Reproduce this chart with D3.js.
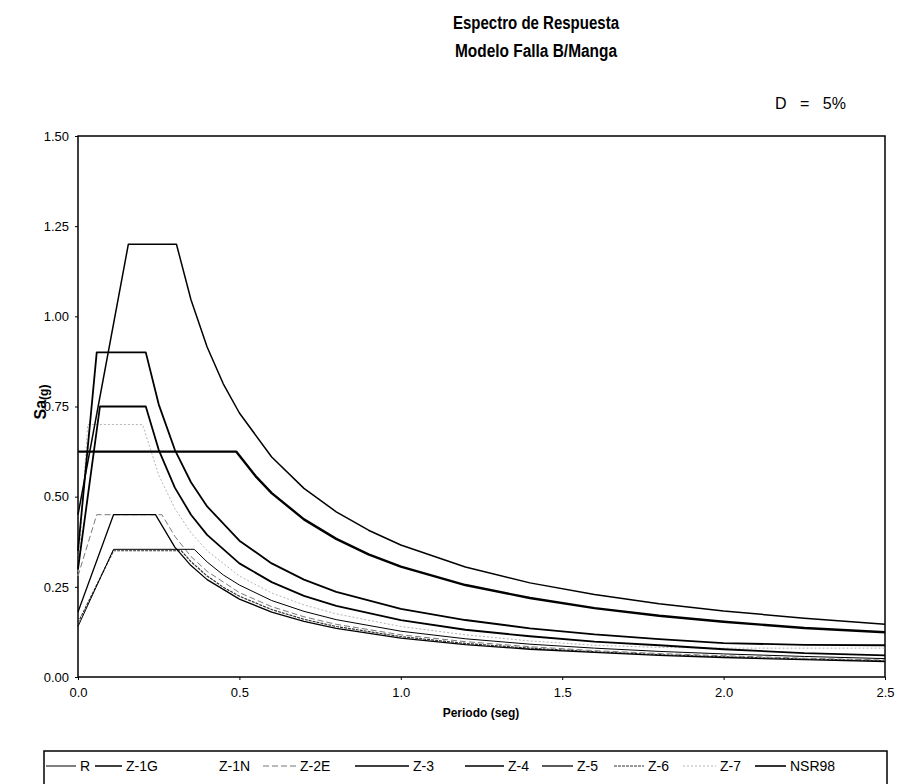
<!DOCTYPE html>
<html><head><meta charset="utf-8">
<script src="https://cdn.jsdelivr.net/npm/d3@7"></script>
<style>
html,body{margin:0;padding:0;background:#fff;}
svg{display:block;font-family:"Liberation Sans",Arial,sans-serif;}
</style></head>
<body>
<svg id="c" width="898" height="784"></svg>
<script>
// ---------- data ----------
const xTicks = [0, 0.5, 1.0, 1.5, 2.0, 2.5];
const xTickLabels = ["0.0", "0.5", "1.0", "1.5", "2.0", "2.5"];
const yTicks = [0, 0.25, 0.5, 0.75, 1.0, 1.25, 1.5];
const yTickLabels = ["0.00", "0.25", "0.50", "0.75", "1.00", "1.25", "1.50"];

const seriesNames = ["R", "Z-1G", "Z-1N", "Z-2E", "Z-3", "Z-4", "Z-5", "Z-6", "Z-7", "NSR98"];

const T_R   = [0, 0.11, 0.36, 0.4, 0.45, 0.5, 0.6, 0.7, 0.8, 1.0, 1.2, 1.4, 1.6, 1.8, 2.0, 2.25, 2.5];
const Sa_R  = [0.14, 0.354, 0.354, 0.319, 0.283, 0.255, 0.212, 0.182, 0.159, 0.127, 0.106, 0.091, 0.080, 0.071, 0.064, 0.057, 0.051];

const T_Z1G  = [0, 0.156, 0.305, 0.35, 0.4, 0.45, 0.5, 0.6, 0.7, 0.8, 0.9, 1.0, 1.2, 1.4, 1.6, 1.8, 2.0, 2.25, 2.5];
const Sa_Z1G = [0.45, 1.20, 1.20, 1.046, 0.915, 0.813, 0.732, 0.61, 0.523, 0.458, 0.407, 0.366, 0.305, 0.261, 0.229, 0.203, 0.183, 0.163, 0.146];

const T_Z1N  = [];
const Sa_Z1N = [];

const T_Z2E  = [0, 0.058, 0.26, 0.3, 0.35, 0.4, 0.5, 0.6, 0.7, 0.8, 1.0, 1.2, 1.4, 1.6, 1.8, 2.0, 2.25, 2.5];
const Sa_Z2E = [0.28, 0.45, 0.45, 0.39, 0.334, 0.293, 0.234, 0.195, 0.167, 0.146, 0.117, 0.098, 0.084, 0.073, 0.065, 0.059, 0.052, 0.047];

const T_Z3  = [0, 0.058, 0.21, 0.25, 0.3, 0.35, 0.4, 0.5, 0.6, 0.7, 0.8, 1.0, 1.2, 1.4, 1.6, 1.8, 2.0, 2.25, 2.5];
const Sa_Z3 = [0.35, 0.90, 0.90, 0.756, 0.63, 0.54, 0.473, 0.378, 0.315, 0.27, 0.236, 0.189, 0.158, 0.135, 0.118, 0.105, 0.094, 0.089, 0.088];

const T_Z4  = [0, 0.068, 0.21, 0.25, 0.3, 0.35, 0.4, 0.5, 0.6, 0.7, 0.8, 1.0, 1.2, 1.4, 1.6, 1.8, 2.0, 2.25, 2.5];
const Sa_Z4 = [0.30, 0.75, 0.75, 0.63, 0.525, 0.45, 0.394, 0.315, 0.263, 0.225, 0.197, 0.158, 0.131, 0.113, 0.098, 0.088, 0.077, 0.066, 0.060];

const T_Z5  = [0, 0.11, 0.24, 0.3, 0.35, 0.4, 0.5, 0.6, 0.7, 0.8, 1.0, 1.2, 1.4, 1.6, 1.8, 2.0, 2.25, 2.5];
const Sa_Z5 = [0.18, 0.45, 0.45, 0.36, 0.309, 0.27, 0.216, 0.18, 0.154, 0.135, 0.108, 0.09, 0.077, 0.068, 0.06, 0.054, 0.048, 0.043];

const T_Z6  = [0, 0.11, 0.32, 0.35, 0.4, 0.45, 0.5, 0.6, 0.7, 0.8, 1.0, 1.2, 1.4, 1.6, 1.8, 2.0, 2.25, 2.5];
const Sa_Z6 = [0.15, 0.35, 0.35, 0.32, 0.28, 0.249, 0.224, 0.187, 0.16, 0.14, 0.112, 0.093, 0.08, 0.07, 0.062, 0.056, 0.05, 0.045];

const T_Z7  = [0, 0.03, 0.2, 0.25, 0.3, 0.35, 0.4, 0.5, 0.6, 0.7, 0.8, 1.0, 1.2, 1.4, 1.6, 1.8, 2.0, 2.25, 2.5];
const Sa_Z7 = [0.28, 0.70, 0.70, 0.56, 0.467, 0.40, 0.35, 0.28, 0.233, 0.20, 0.175, 0.14, 0.117, 0.10, 0.088, 0.082, 0.08, 0.08, 0.08];

const T_NSR  = [0, 0.49, 0.55, 0.6, 0.7, 0.8, 0.9, 1.0, 1.2, 1.4, 1.6, 1.8, 2.0, 2.25, 2.5];
const Sa_NSR = [0.625, 0.625, 0.557, 0.51, 0.437, 0.383, 0.340, 0.306, 0.255, 0.219, 0.191, 0.170, 0.153, 0.136, 0.124];

// ---------- styling ----------
const styles = {
  "R":     {stroke: "#000", width: 1.0, dash: null},
  "Z-1G":  {stroke: "#000", width: 1.5, dash: null},
  "Z-1N":  {stroke: "#fff", width: 1.0, dash: null},
  "Z-2E":  {stroke: "#777", width: 1.0, dash: "6,3"},
  "Z-3":   {stroke: "#000", width: 1.8, dash: null},
  "Z-4":   {stroke: "#000", width: 1.8, dash: null},
  "Z-5":   {stroke: "#000", width: 1.3, dash: null},
  "Z-6":   {stroke: "#333", width: 1.2, dash: "3,1"},
  "Z-7":   {stroke: "#b5b5b5", width: 1.0, dash: "2,2"},
  "NSR98": {stroke: "#000", width: 2.4, dash: null}
};

const seriesData = {
  "R": [T_R, Sa_R], "Z-1G": [T_Z1G, Sa_Z1G], "Z-1N": [T_Z1N, Sa_Z1N],
  "Z-2E": [T_Z2E, Sa_Z2E], "Z-3": [T_Z3, Sa_Z3], "Z-4": [T_Z4, Sa_Z4],
  "Z-5": [T_Z5, Sa_Z5], "Z-6": [T_Z6, Sa_Z6], "Z-7": [T_Z7, Sa_Z7],
  "NSR98": [T_NSR, Sa_NSR]
};

const svg = d3.select("#c");
const m = {left: 78, right: 885, top: 136, bottom: 677};
const x = d3.scaleLinear().domain([0, 2.5]).range([m.left, m.right]);
const y = d3.scaleLinear().domain([0, 1.5]).range([m.bottom, m.top]);

// Title
svg.append("text").attr("x", 536).attr("y", 29).attr("text-anchor", "middle")
  .attr("font-weight", "bold").attr("font-size", 18)
  .attr("textLength", 166).attr("lengthAdjust", "spacingAndGlyphs")
  .text("Espectro de Respuesta");
svg.append("text").attr("x", 536).attr("y", 57).attr("text-anchor", "middle")
  .attr("font-weight", "bold").attr("font-size", 18)
  .attr("textLength", 162).attr("lengthAdjust", "spacingAndGlyphs")
  .text("Modelo Falla B/Manga");
svg.append("text").attr("x", 846).attr("y", 109).attr("text-anchor", "end")
  .attr("font-size", 16).attr("word-spacing", 9).text("D = 5%");

// Axes
const xAxis = d3.axisBottom(x).tickValues(xTicks).tickSize(3)
  .tickFormat((d, i) => xTickLabels[i]);
const gx = svg.append("g").attr("transform", `translate(0,${m.bottom})`).call(xAxis);
gx.selectAll("text").attr("font-size", 13).attr("fill", "#000").attr("dy", "1.05em")
  .attr("font-family", "Liberation Sans, Arial, sans-serif");
gx.select(".domain").remove();
gx.selectAll(".tick line").attr("stroke", "#000");

const yAxis = d3.axisLeft(y).tickValues(yTicks).tickSize(3)
  .tickFormat((d, i) => yTickLabels[i]);
const gy = svg.append("g").attr("transform", `translate(${m.left},0)`).call(yAxis);
gy.selectAll("text").attr("font-size", 13).attr("fill", "#000").attr("x", -9)
  .attr("font-family", "Liberation Sans, Arial, sans-serif");
gy.select(".domain").remove();
gy.selectAll(".tick line").attr("stroke", "#000");

// Plot frame
svg.append("rect").attr("x", m.left).attr("y", m.top)
  .attr("width", m.right - m.left).attr("height", m.bottom - m.top)
  .attr("fill", "none").attr("stroke", "#000").attr("stroke-width", 1.5);

// Lines
const line = d3.line().x(d => x(d[0])).y(d => y(d[1]));
const drawOrder = ["Z-7", "Z-6", "Z-2E", "R", "Z-5", "Z-4", "Z-3", "Z-1G", "NSR98"];
drawOrder.forEach(name => {
  const [ts, vs] = seriesData[name];
  if (!ts.length) return;
  const pts = ts.map((t, i) => [t, vs[i]]);
  const s = styles[name];
  svg.append("path").datum(pts).attr("d", line)
    .attr("fill", "none").attr("stroke", s.stroke).attr("stroke-width", s.width)
    .attr("stroke-dasharray", s.dash).attr("stroke-linejoin", "round");
});

// Axis titles
svg.append("text").attr("x", 481).attr("y", 717).attr("text-anchor", "middle")
  .attr("font-weight", "bold").attr("font-size", 12).text("Periodo (seg)");
const yl = svg.append("text").attr("transform", "translate(46,402) rotate(-90)")
  .attr("text-anchor", "middle").attr("font-weight", "bold").attr("font-size", 16);
yl.append("tspan").text("Sa");
yl.append("tspan").attr("font-size", 12).attr("dy", 2).text("(g)");

// Legend
const legendBox = {x: 44, y: 751, w: 843, h: 40};
svg.append("rect").attr("x", legendBox.x).attr("y", legendBox.y)
  .attr("width", legendBox.w).attr("height", legendBox.h)
  .attr("fill", "#fff").attr("stroke", "#000").attr("stroke-width", 1.5);
const legendLineStart = [46, 95, 182, 263, 355, 465, 542, 614, 683, 755];
const legendTextStart = [80, 126, 219, 300, 413, 508, 577, 648, 720, 790];
seriesNames.forEach((name, i) => {
  const s = styles[name];
  svg.append("line").attr("x1", legendLineStart[i]).attr("x2", legendTextStart[i] - 4)
    .attr("y1", 766).attr("y2", 766)
    .attr("stroke", s.stroke).attr("stroke-width", Math.min(s.width, 1.6))
    .attr("stroke-dasharray", s.dash);
  svg.append("text").attr("x", legendTextStart[i]).attr("y", 771)
    .attr("font-size", 14).text(name);
});
</script>
</body></html>
